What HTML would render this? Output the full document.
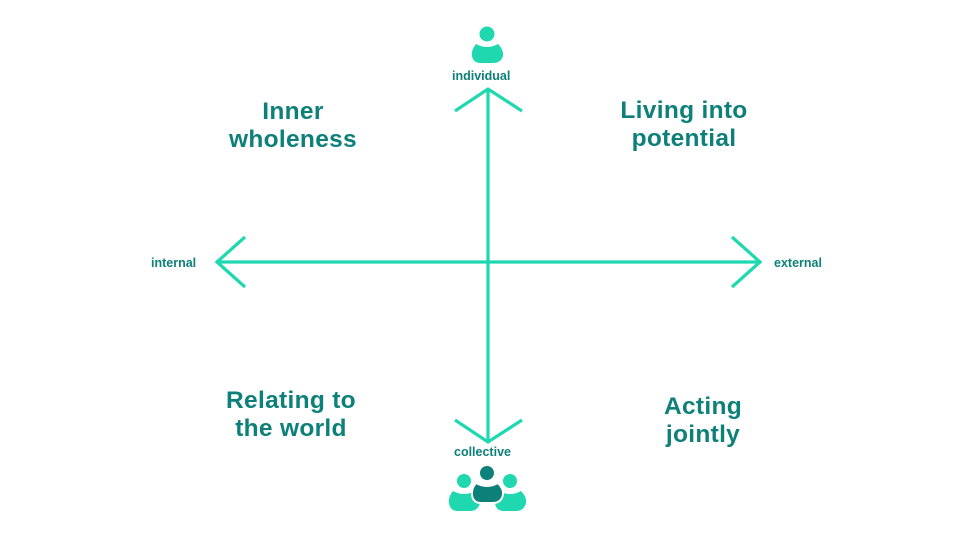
<!DOCTYPE html>
<html><head><meta charset="utf-8"><style>
html,body{margin:0;padding:0;background:#fff;}
body{width:960px;height:540px;position:relative;overflow:hidden;font-family:"Liberation Sans",sans-serif;}
.h{position:absolute;color:#0e807a;font-weight:bold;font-size:24.5px;line-height:28px;text-align:center;width:240px;letter-spacing:0.3px;}
.l{position:absolute;color:#0e807a;font-weight:bold;font-size:12.5px;line-height:14px;}
</style></head><body>
<svg width="960" height="540" style="position:absolute;left:0;top:0">
<g stroke="#1fd8b0" stroke-width="3.2" fill="none" stroke-linecap="butt" stroke-linejoin="miter">
<line x1="488" y1="89" x2="488" y2="443"/>
<line x1="216" y1="262" x2="761" y2="262"/>
<polyline points="455,111 488,89 522,111"/>
<polyline points="455,420 488,442 522,420"/>
<polyline points="245,237 217,262 245,287"/>
<polyline points="732,237 760,262 732,287"/>
</g>
<circle cx="487" cy="34" r="7.5" fill="#1fd8b0"/>
<path d="M476,44 Q487,50 498,44 Q504,50 503,56 Q501,63 493,63 L481,63 Q473,63 472,56 Q471,50 476,44 Z" fill="#1fd8b0"/>
<circle cx="464" cy="481" r="7" fill="#1fd8b0"/>
<path d="M453,491 Q464,497 475,491 Q481,497 480,503 Q478,511 470,511 L458,511 Q450,511 449,503 Q448,497 453,491 Z" fill="#1fd8b0"/>
<circle cx="510" cy="481" r="7" fill="#1fd8b0"/>
<path d="M499,491 Q510,497 521,491 Q527,497 526,503 Q524,511 516,511 L504,511 Q496,511 495,503 Q494,497 499,491 Z" fill="#1fd8b0"/>
<circle cx="487" cy="473" r="7" fill="#0e807a"/>
<path d="M476,483 Q487,489 498,483 Q504,489 503,495 Q501,503 493,503 L481,503 Q473,503 472,495 Q471,489 476,483 Z" fill="#0e807a" stroke="#fff" stroke-width="2"/>
</svg>
<div class="l" style="left:452px;top:69px;">individual</div>
<div class="l" style="left:454px;top:445px;">collective</div>
<div class="l" style="left:151px;top:256px;">internal</div>
<div class="l" style="left:774px;top:256px;">external</div>
<div class="h" style="left:173px;top:98px;">Inner<br>wholeness</div>
<div class="h" style="left:564px;top:97px;">Living into<br>potential</div>
<div class="h" style="left:171px;top:387px;">Relating to<br>the world</div>
<div class="h" style="left:583px;top:393px;">Acting<br>jointly</div>
</body></html>
